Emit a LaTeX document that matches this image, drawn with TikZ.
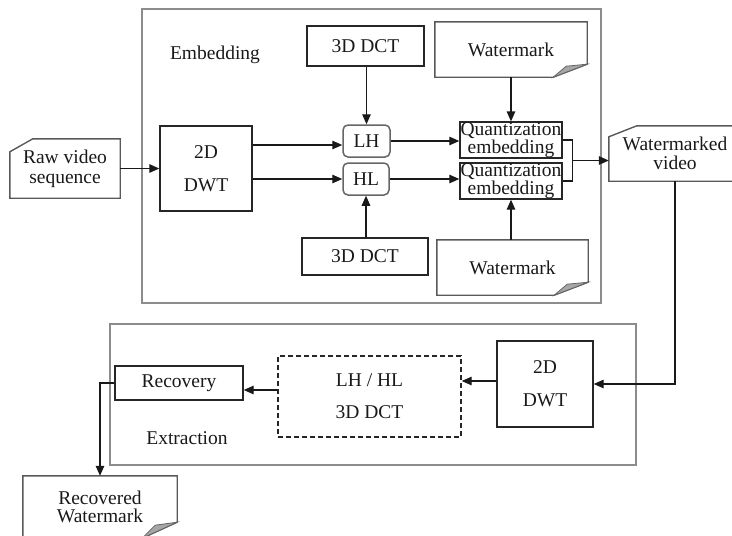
\documentclass[tikz,border=0pt]{standalone}
\usepackage{fontspec}
\setmainfont{Liberation Serif}
\usetikzlibrary{arrows.meta,calc}
\newcommand\fsz{\fontsize{19.5}{20}\selectfont}
\begin{document}
\begin{tikzpicture}[x=1pt,y=-1pt,
 every node/.style={font=\fsz, inner sep=0.5pt, align=center, text=black!90},
 boxn/.style={draw=black!85, line width=1.4pt},
 rnd/.style={draw=black!60, line width=1.5pt, rounded corners=5pt},
 qf/.style={font=\fontsize{19.5}{15}\selectfont},
 shp/.style={draw=black!65, line width=1.4pt},
 fold/.style={draw=black!60, line width=0.8pt, fill=black!35},
 frame/.style={draw=black!45, line width=1.3pt},
 arr/.style={-{Triangle[length=10pt,width=8.5pt]}, line width=1.3pt, draw=black!90},
 ln/.style={line width=1.3pt, draw=black!90}]
\useasboundingbox (0,0) rectangle (732,536);
% frames
\draw[frame] (142,9) rectangle (601,303);
\draw[frame] (110,324) rectangle (636,465);
\node (emb) at (215,55) {Embedding};
\node (ext) at (187,438) {Extraction};

% raw video
\node[minimum width=110pt, minimum height=59pt] (raw) at (65,168.5) {Raw video\\sequence};
\draw[shp] ($(raw.north west)+(0,13)$) -- ($(raw.north west)+(23,0)$) -- (raw.north east) -- (raw.south east) -- (raw.south west) -- cycle;

\node[boxn, minimum width=92pt, minimum height=85pt] (dwt1) at (206,168.5) {2D\\[13pt]DWT};
\node[boxn, minimum width=117pt, minimum height=40pt] (dct1) at (365.5,46) {3D DCT};
\node[boxn, minimum width=126pt, minimum height=37pt] (dct2) at (365,256.5) {3D DCT};
\node[rnd, minimum width=47pt, minimum height=32pt] (lh) at (366.5,141) {LH};
\node[rnd, minimum width=46pt, minimum height=32pt] (hl) at (366,179) {HL};
\node[boxn, qf, minimum width=102pt, minimum height=34pt] (q1) at (511,140) {Quantization\\embedding};
\node[boxn, qf, minimum width=102pt, minimum height=36pt] (q2) at (511,181) {Quantization\\embedding};

% watermark documents
\node[minimum width=152pt, minimum height=55pt] (wm1) at (511,49.5) {Watermark};
\draw[shp] (wm1.north west) -- (wm1.north east) -- ($(wm1.south east)+(0,-13)$) -- ($(wm1.south east)+(-34,0)$) -- (wm1.south west) -- cycle;
\draw[fold] ($(wm1.south east)+(0,-13)$) -- ($(wm1.south east)+(-34,0)$) -- ($(wm1.south east)+(-21,-11)$) -- cycle;

\node[minimum width=151pt, minimum height=55pt] (wm2) at (512.5,267.5) {Watermark};
\draw[shp] (wm2.north west) -- (wm2.north east) -- ($(wm2.south east)+(0,-13)$) -- ($(wm2.south east)+(-34,0)$) -- (wm2.south west) -- cycle;
\draw[fold] ($(wm2.south east)+(0,-13)$) -- ($(wm2.south east)+(-34,0)$) -- ($(wm2.south east)+(-21,-11)$) -- cycle;

% watermarked video
\node[minimum width=132pt, minimum height=55pt, font=\fontsize{19.5}{19}\selectfont] (wv) at (675,153.5) {Watermarked\\video};
\draw[shp] ($(wv.north west)+(0,11)$) -- ($(wv.north west)+(28,0)$) -- (wv.north east) -- (wv.south east) -- (wv.south west) -- cycle;

% extraction
\node[boxn, minimum width=96pt, minimum height=86pt] (dwt2) at (545,384) {2D\\[13pt]DWT};
\node[boxn, dash pattern=on 5pt off 3pt, minimum width=183pt, minimum height=81pt] (dsh) at (369.5,396.5) {LH / HL\\[12pt]3D DCT};
\node[boxn, minimum width=128pt, minimum height=34pt] (rec) at (179,383) {Recovery};

\node[minimum width=154pt, minimum height=62pt, font=\fontsize{19.5}{18}\selectfont] (rw) at (100,507) {Recovered\\Watermark};
\draw[shp] (rw.north west) -- (rw.north east) -- ($(rw.south east)+(0,-16)$) -- ($(rw.south east)+(-35,0)$) -- (rw.south west) -- cycle;
\draw[fold] ($(rw.south east)+(0,-16)$) -- ($(rw.south east)+(-35,0)$) -- ($(rw.south east)+(-22,-13)$) -- cycle;

% connectors
\draw[arr] (raw.east) -- (dwt1.west);
\draw[arr] ([yshift=-4pt]dwt1.east |- lh.west) -- ([yshift=-4pt]lh.west);
\draw[arr] (dwt1.east |- hl.west) -- (hl.west);
\draw[arr] (lh.north |- dct1.south) -- (lh.north);
\draw[arr] (hl.south |- dct2.north) -- (hl.south);
\draw[arr] (lh.east) -- (q1.west |- lh.east);
\draw[arr] (hl.east) -- (q2.west |- hl.east);
\draw[arr] (wm1.south -| q1.north) -- (q1.north);
\draw[arr] (q2.south |- wm2.north) -- (q2.south);
\coordinate (brk) at ($(q1.east)!0.5!(q2.east)+(10,0)$);
\draw[ln] (q1.east) -| (brk) |- (q2.east);
\draw[arr] (brk) -- (wv.west |- brk);
\draw[arr] (wv.south) |- (dwt2.east);
\draw[arr] ([yshift=3pt]dwt2.west) -- ([yshift=3pt]dsh.east |- dwt2.west);
\draw[arr] ([yshift=-7pt]dsh.west |- rec.east) -- ([yshift=-7pt]rec.east);
\draw[arr] (rec.west) -| (rw.north);
\end{tikzpicture}
\end{document}
